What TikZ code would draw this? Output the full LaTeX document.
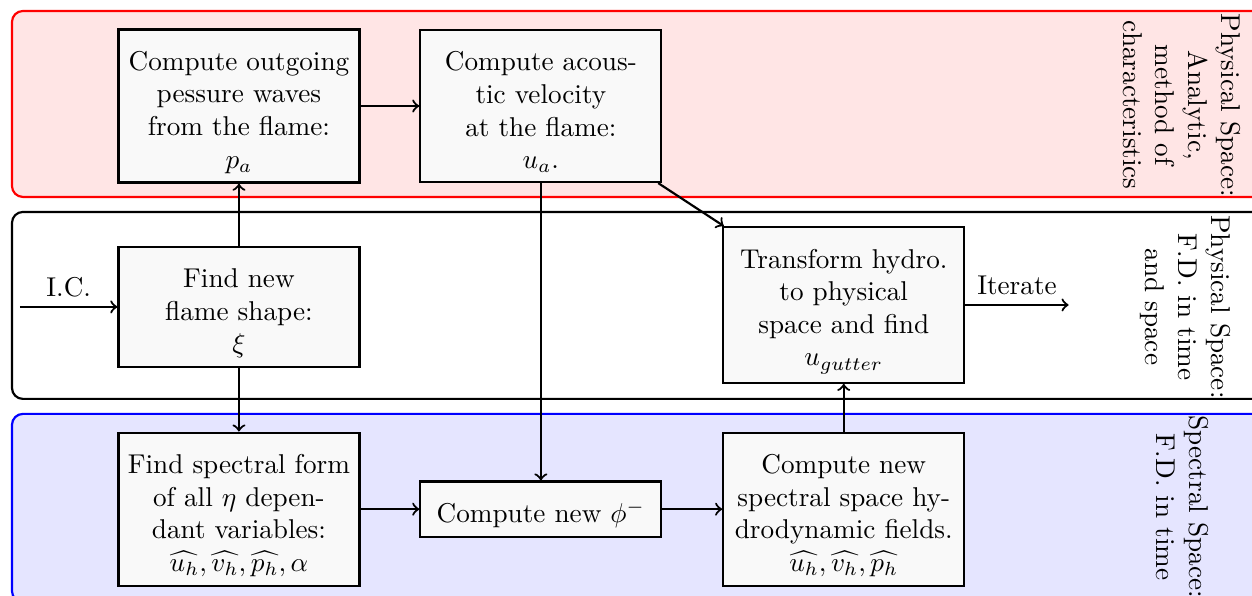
\documentclass[tikz,border=0pt]{standalone}
\usepackage{amsmath,amssymb}
\usepackage{tikz}
\tikzset{
  stepbox/.style  = {draw,thick,fill=gray!5,text width=2.88cm,align=center,text height=11.7pt},
  band/.style     = {thick,rounded corners},
  bandlabel/.style= {rotate=-90,align=center},
  flow/.style     = {->,thick}
}

\begin{document}
\begin{tikzpicture}
  \useasboundingbox (0,0) rectangle (16.18,-7.70);
  % the three regions
  \draw[band,red,fill=red!10]   (0.155,-0.142) rectangle (16.4,-2.545);
  \draw[band,black,fill=white]  (0.155,-2.739) rectangle (16.4,-5.155);
  \draw[band,blue,fill=blue!10] (0.155,-5.349) rectangle (16.4,-7.78);

  \node[bandlabel] (lphys)  at (15.27,-1.36) {Physical Space:\\ Analytic,\\ method of\\ characteristics};
  \node[bandlabel] (lfd)    at (15.32,-3.966) {Physical Space:\\ F.D. in time\\ and space};
  \node[bandlabel] (lspec)  at (15.28,-6.55)  {Spectral Space:\\ F.D. in time};

  % steps
  \node[stepbox] (outgoing) at (3.088,-1.370) {Compute outgoing pessure waves from the flame:\\ $p_a$};
  \node[stepbox] (acoustic) at (6.990,-1.370) {Compute acous-\\tic velocity\\ at the flame:\\ $u_a$.};
  \node[stepbox] (shape)    at (3.088,-3.966) {Find new flame shape:\\ $\xi$};
  \node[stepbox] (transf)   at (10.904,-3.941) {Transform hydro. to physical space and find\\ $u_{gutter}$};
  \node[stepbox] (spectral) at (3.088,-6.58) {Find spectral form of all $\eta$ dependant variables:\\ $\widehat{u_h},\widehat{v_h},\widehat{p_h},\alpha$};
  \node[stepbox] (phi)      at (6.990,-6.58) {Compute new $\phi^-$};
  \node[stepbox] (hydro)    at (10.904,-6.58) {Compute new spectral space hydrodynamic fields.\\ $\widehat{u_h},\widehat{v_h},\widehat{p_h}$};

  \coordinate (ic)   at (0.258,-3.966);
  \coordinate (iter) at (13.81,-3.941);

  \draw[flow] (ic) -- node[above] (icl) {I.C.} (shape);
  \draw[flow] (shape) -- (outgoing);
  \draw[flow] (shape) -- (spectral);
  \draw[flow] (outgoing) -- (acoustic);
  \draw[flow] (acoustic) -- (phi);
  \draw[flow] (acoustic) -- (transf);
  \draw[flow] (spectral) -- (phi);
  \draw[flow] (phi) -- (hydro);
  \draw[flow] (hydro) -- (transf);
  \draw[flow] (transf) -- node[above] (iterl) {Iterate} (iter);
\end{tikzpicture}
\end{document}
